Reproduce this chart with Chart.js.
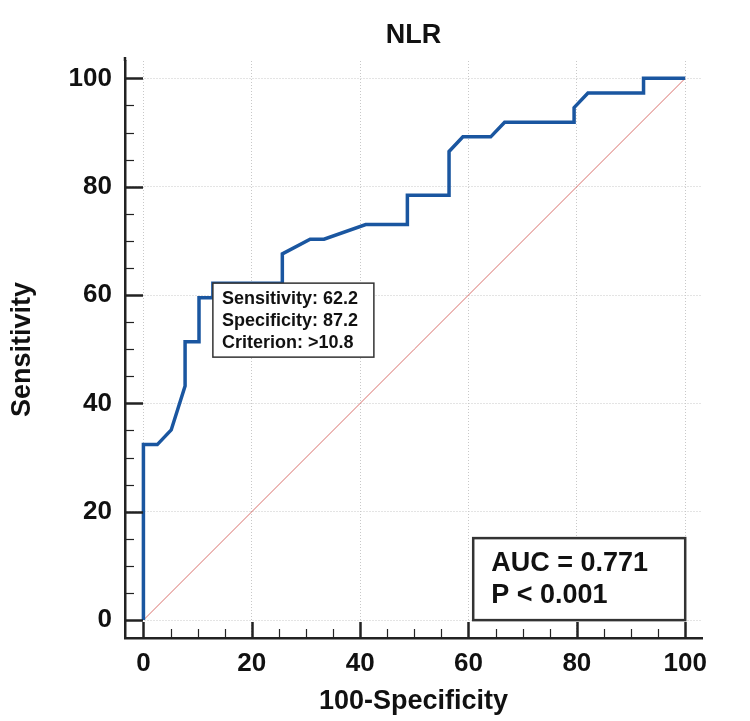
<!DOCTYPE html>
<html>
<head>
<meta charset="utf-8">
<script src="https://cdn.jsdelivr.net/npm/chart.js@4.4.1/dist/chart.umd.min.js"></script>
<style>
  html, body { margin: 0; padding: 0; background: #fff; }
  #wrap { width: 750px; height: 721px; position: relative; }
</style>
</head>
<body>
<div id="wrap"><canvas id="roc"></canvas></div>
<script>
// --- ROC data for NLR ---
var fpr  = [0, 0, 2.56, 5.13, 7.69, 7.69, 10.26, 10.26, 12.82, 12.82, 25.64, 25.64, 30.77, 33.33, 41.03, 48.72, 48.72, 56.41, 56.41, 58.97, 64.10, 66.67, 79.49, 79.49, 82.05, 92.31, 92.31, 100];
var sens = [0, 32.4, 32.4, 35.1, 43.2, 51.4, 51.4, 59.5, 59.5, 62.2, 62.2, 67.6, 70.3, 70.3, 73.0, 73.0, 78.4, 78.4, 86.5, 89.2, 89.2, 91.9, 91.9, 94.6, 97.3, 97.3, 100, 100];
var refX = [0, 100];
var refY = [0, 100];
var tickValues = [0, 20, 40, 60, 80, 100];
var minorValues = [5, 10, 15, 25, 30, 35, 45, 50, 55, 65, 70, 75, 85, 90, 95];
var criterion = { x: 12.82, y: 62.2 };
var criterionLines = ['Sensitivity: 62.2', 'Specificity: 87.2', 'Criterion: >10.8'];
var aucLines = ['AUC = 0.771', 'P < 0.001'];
var chartTitle = 'NLR';

var FONT = '"Liberation Sans", Arial, sans-serif';

function toPoints(xs, ys) {
  return xs.map(function(x, i) { return { x: x, y: ys[i] }; });
}

function fixTicks(scale) {
  scale.ticks = tickValues.map(function(v) { return { value: v }; });
}

// --- title, inward tick marks + annotation boxes ---
var decorPlugin = {
  id: 'decor',
  afterDraw: function(chart) {
    var ctx = chart.ctx;
    var xs = chart.scales.x, ys = chart.scales.y;
    var area = chart.chartArea;
    ctx.save();

    // title centred over the plot area
    ctx.fillStyle = '#111';
    ctx.font = 'bold 27px ' + FONT;
    ctx.textAlign = 'center';
    ctx.textBaseline = 'middle';
    ctx.fillText(chartTitle, (area.left + area.right) / 2, 36);

    ctx.strokeStyle = '#222';
    ctx.lineCap = 'butt';

    // y axis ticks
    tickValues.forEach(function(v) {
      var py = Math.round(ys.getPixelForValue(v)) + 0.5;
      ctx.lineWidth = 2.5;
      ctx.beginPath(); ctx.moveTo(area.left, py); ctx.lineTo(area.left + 18, py); ctx.stroke();
    });
    minorValues.forEach(function(v) {
      var py = Math.round(ys.getPixelForValue(v)) + 0.5;
      ctx.lineWidth = 1.2;
      ctx.beginPath(); ctx.moveTo(area.left, py); ctx.lineTo(area.left + 9, py); ctx.stroke();
    });
    // x axis ticks
    tickValues.forEach(function(v) {
      var px = Math.round(xs.getPixelForValue(v)) + 0.5;
      ctx.lineWidth = 2.5;
      ctx.beginPath(); ctx.moveTo(px, area.bottom); ctx.lineTo(px, area.bottom - 16); ctx.stroke();
    });
    minorValues.forEach(function(v) {
      var px = Math.round(xs.getPixelForValue(v)) + 0.5;
      ctx.lineWidth = 1.2;
      ctx.beginPath(); ctx.moveTo(px, area.bottom); ctx.lineTo(px, area.bottom - 9); ctx.stroke();
    });
    // y axis line runs a little above the plot area
    ctx.lineWidth = 2.5;
    ctx.beginPath(); ctx.moveTo(area.left, area.top); ctx.lineTo(area.left, area.top - 4); ctx.stroke();

    // criterion box, anchored at the criterion point
    var bx = xs.getPixelForValue(criterion.x), by = ys.getPixelForValue(criterion.y);
    ctx.fillStyle = '#fff';
    ctx.fillRect(bx, by, 161, 74);
    ctx.lineWidth = 1.5;
    ctx.strokeStyle = '#333';
    ctx.strokeRect(bx, by, 161, 74);
    ctx.fillStyle = '#111';
    ctx.font = 'bold 18px ' + FONT;
    ctx.textAlign = 'left';
    criterionLines.forEach(function(t, i) {
      ctx.fillText(t, bx + 9, by + 16 + i * 21.7);
    });

    // AUC box, anchored at bottom-right corner (100, 0)
    var ax = xs.getPixelForValue(100), ay = ys.getPixelForValue(0);
    var aw = 212, ah = 82;
    ctx.fillStyle = '#fff';
    ctx.fillRect(ax - aw, ay - ah, aw, ah);
    ctx.lineWidth = 2.5;
    ctx.strokeStyle = '#333';
    ctx.strokeRect(ax - aw, ay - ah, aw, ah);
    ctx.fillStyle = '#111';
    ctx.font = 'bold 27px ' + FONT;
    aucLines.forEach(function(t, i) {
      ctx.fillText(t, ax - aw + 18, ay - ah + 25 + i * 32.5);
    });
    ctx.restore();
  }
};

var ctx = document.getElementById('roc').getContext('2d');
new Chart(ctx, {
  type: 'scatter',
  data: {
    datasets: [
      {
        data: toPoints(fpr, sens),
        showLine: true,
        borderColor: '#1a56a0',
        borderWidth: 3.5,
        pointRadius: 0,
        tension: 0,
        order: 1
      },
      {
        data: toPoints(refX, refY),
        showLine: true,
        borderColor: '#d9706c',
        borderWidth: 1,
        pointRadius: 0,
        order: 2
      }
    ]
  },
  options: {
    responsive: true,
    maintainAspectRatio: false,
    animation: false,
    layout: { padding: { left: 0, right: 48, top: 61, bottom: 0 } },
    plugins: {
      legend: { display: false },
      tooltip: { enabled: false },
      title: { display: false }
    },
    scales: {
      x: {
        type: 'linear',
        min: -3.4,
        max: 103.1,
        afterBuildTicks: fixTicks,
        afterFit: function(s) { s.height = 83; },
        grid: { color: '#c8c8c8', lineWidth: 1, drawTicks: false },
        border: { display: true, color: '#222', width: 2.5, dash: [1, 2] },
        ticks: {
          padding: 10,
          color: '#111',
          font: { family: FONT, size: 26, weight: 'bold' }
        },
        title: {
          display: true,
          text: '100-Specificity',
          color: '#111',
          font: { family: FONT, size: 27, weight: 'bold' },
          padding: { top: 0, bottom: 3 }
        }
      },
      y: {
        type: 'linear',
        min: -3.3,
        max: 103.2,
        afterBuildTicks: fixTicks,
        afterFit: function(s) { s.width = 125; },
        grid: { color: '#c8c8c8', lineWidth: 1, drawTicks: false },
        border: { display: true, color: '#222', width: 2.5, dash: [1, 2] },
        ticks: {
          padding: 13,
          color: '#111',
          font: { family: FONT, size: 26, weight: 'bold' }
        },
        title: {
          display: true,
          text: 'Sensitivity',
          color: '#111',
          font: { family: FONT, size: 27, weight: 'bold' },
          padding: { top: 6, bottom: 0 }
        }
      }
    }
  },
  plugins: [decorPlugin]
});
</script>
</body>
</html>
